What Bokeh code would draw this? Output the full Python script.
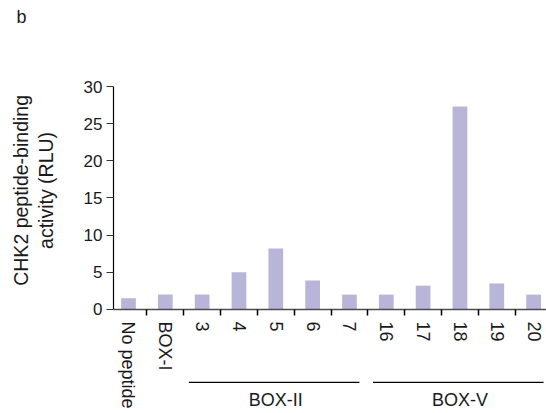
from bokeh.plotting import figure
from bokeh.models import FixedTicker, Range1d, ColumnDataSource
from bokeh.core.properties import value
from bokeh.embed import file_html
from bokeh.resources import INLINE

categories = ["No peptide", "BOX-I", "3", "4", "5", "6", "7", "16", "17", "18", "19", "20"]
values = [1.5, 2.0, 2.0, 5.0, 8.2, 3.9, 2.0, 2.0, 3.2, 27.3, 3.5, 2.0]
y_ticks = [0, 5, 10, 15, 20, 25, 30]
groups = ["BOX-II", "BOX-V"]
group_first = [2, 7]
group_last = [6, 11]

FONT = "Liberation Sans"
TXT = "#1a1a1a"
xs = list(range(len(categories)))

p = figure(width=546, height=413, output_backend="svg", toolbar_location=None,
           x_range=Range1d(-0.407, 11.35), y_range=Range1d(-14.0, 30),
           min_border_left=113, min_border_top=86, min_border_right=0,
           min_border_bottom=0, title="b\n\n")
p.outline_line_color = None
p.grid.visible = False

p.title.align = "left"
p.title.vertical_align = "top"
p.title.offset = -97
p.title.standoff = 12
p.title.text_line_height = 1.3
p.title.text_font = FONT
p.title.text_font_size = "18px"
p.title.text_font_style = "normal"
p.title.text_color = TXT

p.vbar(x=xs, top=values, bottom=0, width=0.4, color="#b9b5d8", line_color=None)

# x axis at y = 0: labels at bar centres, tick marks between bars
xa = p.xaxis[0]
xa.fixed_location = 0
xa.ticker = FixedTicker(ticks=xs, minor_ticks=[i + 0.5 for i in xs[:-1]])
xa.major_label_overrides = {i: c for i, c in zip(xs, categories)}
xa.major_label_orientation = "vertical"
xa.major_tick_out = 0
xa.major_tick_in = 0
xa.minor_tick_out = 6
xa.minor_tick_in = 0
xa.minor_tick_line_color = "black"
xa.minor_tick_line_width = 1.5
xa.axis_line_color = "#4d4d4d"
xa.axis_line_width = 1.5
xa.major_label_standoff = 6
xa.major_label_text_font = FONT
xa.major_label_text_font_size = "18px"
xa.major_label_text_color = TXT

# the frame reaches down to the group labels, so the label is padded at its
# start to sit centred on the 0-30 part of the axis
pad = "\u00a0" * 22
ya = p.yaxis[0]
ya.bounds = (0, 30)
ya.ticker = FixedTicker(ticks=y_ticks)
ya.minor_tick_line_color = None
ya.major_tick_out = 7
ya.major_tick_in = 0
ya.major_tick_line_color = "#333333"
ya.axis_line_color = "black"
ya.axis_line_width = 1.2
ya.major_label_standoff = 4
ya.major_label_text_font = FONT
ya.major_label_text_font_size = "17px"
ya.major_label_text_color = TXT
ya.axis_label = pad + "CHK2 peptide-binding\n" + pad + "activity (RLU)"
ya.axis_label_text_font = FONT
ya.axis_label_text_font_size = "19.5px"
ya.axis_label_text_font_style = "normal"
ya.axis_label_text_color = TXT
ya.axis_label_text_align = "center"
ya.axis_label_text_line_height = 1.1
ya.axis_label_standoff = 24

# group brackets below the tick labels
gsrc = ColumnDataSource(dict(
    name=groups,
    x0=[a - 0.36 for a in group_first],
    x1=[b + 0.27 for b in group_last],
    xc=[(a + b) / 2 for a, b in zip(group_first, group_last)],
    yl=[-9.8] * len(groups),
    yt=[-12.2] * len(groups),
))
p.segment(x0="x0", y0="yl", x1="x1", y1="yl", source=gsrc, line_color="black", line_width=1.2)
p.text(x="xc", y="yt", text="name", source=gsrc, text_align="center", text_baseline="middle",
       text_font=value(FONT), text_font_size="18px", text_color=TXT)

open("out.html", "w").write(file_html(p, INLINE))
